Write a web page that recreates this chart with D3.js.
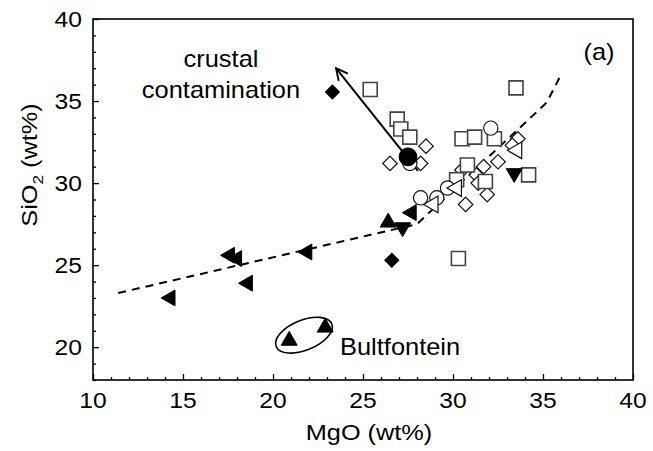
<!DOCTYPE html>
<html><head><meta charset="utf-8">
<script src="https://cdn.jsdelivr.net/npm/d3@7"></script>
<style>body{margin:0;background:#fff}svg{display:block}text{font-family:"Liberation Sans",Arial,sans-serif;fill:#000}</style>
</head><body>
<svg id="c" width="653" height="451"></svg>
<script>
// ---- data ----
const xTicks = [10, 15, 20, 25, 30, 35, 40];
const yTicks = [20, 25, 30, 35, 40];
const openSquares = [[25.4,35.7],[33.5,35.8],[26.9,33.9],[27.1,33.3],[27.6,32.8],[30.5,32.7],[31.2,32.8],[32.3,32.7],[30.8,31.1],[30.2,30.2],[31.8,30.1],[34.2,30.5],[30.3,25.4]];
const openDiamonds = [[28.5,32.25],[26.5,31.2],[28.2,31.2],[33.6,32.7],[33.3,32.3],[32.5,31.3],[31.7,31.0],[31.3,30.5],[31.4,30.0],[31.9,29.3],[30.7,28.7],[30.5,30.8]];
const openCircles = [[32.1,33.35],[28.2,29.1],[29.1,29.1],[29.7,29.7],[27.6,31.2]];
const openLeftTriangles = [[33.55,32.0],[28.9,28.7],[30.2,29.7]];
const filledCircles = [[27.5,31.6]];
const filledLeftTriangles = [[14.3,23.0],[17.6,25.6],[18.0,25.4],[18.6,23.9],[21.9,25.8],[27.7,28.2]];
const filledUpTriangles = [[26.4,27.6],[20.9,20.4],[22.9,21.2]];
const filledDownTriangles = [[27.2,27.3],[33.4,30.6]];
const filledDiamonds = [[23.3,35.55],[26.6,25.3]];
const trendLine = [[11.4,23.3],[28.0,27.5],[31.2,30.8],[35.2,34.9],[36.0,36.6]];
const contaminationArrow = [[28.05,30.75],[23.5,37.0]];
const bultfonteinGroup = [21.72, 20.73];

// ---- layout ----
const L = 93, R = 633, T = 19, B = 380;
const svg = d3.select("#c");
const x = d3.scaleLinear().domain([10, 40]).range([L, R]);
const y = d3.scaleLinear().domain([18, 40]).range([B, T]);

svg.append("defs").append("marker").attr("id","ah").attr("viewBox","0 0 12 12")
  .attr("refX",11).attr("refY",6).attr("markerWidth",14).attr("markerHeight",14)
  .attr("markerUnits","userSpaceOnUse").attr("orient","auto")
  .append("path").attr("d","M1,1 L11,6 L1,11").attr("fill","none").attr("stroke","#000").attr("stroke-width",1.6);

// axes (inward ticks)
const xAxis = d3.axisBottom(x).tickValues(d3.range(10, 41, 1)).tickSize(-3).tickFormat("");
const gx = svg.append("g").attr("transform",`translate(0,${B})`).call(xAxis);
gx.selectAll(".tick line").attr("y2", d => d % 5 === 0 ? -6 : -3).attr("stroke-width",1.3);
const yAxis = d3.axisLeft(y).tickValues(d3.range(18, 41, 1)).tickSize(-3).tickFormat("");
const gy = svg.append("g").attr("transform",`translate(${L},0)`).call(yAxis);
gy.selectAll(".tick line").attr("x2", d => d % 5 === 0 ? 6 : 3).attr("stroke-width",1.3);
svg.selectAll(".domain").remove();
svg.append("rect").attr("x",L).attr("y",T).attr("width",R-L).attr("height",B-T)
  .attr("fill","none").attr("stroke","#000").attr("stroke-width",1.6);

function stext(tx, ty, str, size, anchor, sx) {
  return svg.append("text").attr("transform",`translate(${tx},${ty}) scale(${sx},1)`)
    .attr("text-anchor",anchor).attr("font-size",size).text(str);
}
xTicks.forEach(v => stext(x(v), 408, String(v), 22, "middle", 1.12));
yTicks.forEach(v => stext(L - 11, y(v) + 8, String(v), 22, "end", 1.12));
stext((L+R)/2 + 6, 440, "MgO (wt%)", 22, "middle", 1.15);
const yl = svg.append("text").attr("transform","translate(37,165) rotate(-90) scale(1.15,1)")
  .attr("text-anchor","middle").attr("font-size",22);
yl.append("tspan").text("SiO");
yl.append("tspan").attr("font-size",15).attr("dy",6).text("2");
yl.append("tspan").attr("dy",-6).text(" (wt%)");

// trend line
svg.append("path").datum(trendLine)
  .attr("d", d3.line().x(d => x(d[0])).y(d => y(d[1])))
  .attr("fill","none").attr("stroke","#000").attr("stroke-width",2).attr("stroke-dasharray","8,6");

// arrow
svg.append("line").attr("x1",x(contaminationArrow[0][0])).attr("y1",y(contaminationArrow[0][1]))
  .attr("x2",x(contaminationArrow[1][0])).attr("y2",y(contaminationArrow[1][1]))
  .attr("stroke","#000").attr("stroke-width",2).attr("marker-end","url(#ah)");

// markers
function plot(data, type, size, rot, fill, stroke, sw) {
  svg.append("g").selectAll("path").data(data).join("path")
    .attr("d", d3.symbol().type(type).size(size))
    .attr("transform", d => `translate(${x(d[0])},${y(d[1])}) rotate(${rot})`)
    .attr("fill", fill).attr("stroke", stroke).attr("stroke-width", sw);
}
plot(openDiamonds, d3.symbolSquare, 105, 45, "#fff", "#111", 1.2);
plot(openSquares, d3.symbolSquare, 196, 0, "#fff", "#444", 1.6);
plot(openCircles, d3.symbolCircle, 160, 0, "#fff", "#111", 1.2);
plot(openLeftTriangles, d3.symbolTriangle, 120, -90, "#fff", "#111", 1.2);
plot(filledCircles, d3.symbolCircle, 250, 0, "#000", "#000", 1);
plot(filledLeftTriangles, d3.symbolTriangle, 110, -90, "#000", "#000", 1);
plot(filledUpTriangles, d3.symbolTriangle, 110, 0, "#000", "#000", 1);
plot(filledDownTriangles, d3.symbolTriangle, 110, 180, "#000", "#000", 1);
plot(filledDiamonds, d3.symbolSquare, 98, 45, "#000", "#000", 1);

// Bultfontein ellipse
svg.append("ellipse").attr("cx",0).attr("cy",0).attr("rx",30).attr("ry",15)
  .attr("transform",`translate(${x(bultfonteinGroup[0])},${y(bultfonteinGroup[1])}) rotate(-22)`)
  .attr("fill","none").attr("stroke","#000").attr("stroke-width",1.6);

// annotations
stext(340, 355, "Bultfontein", 24, "start", 1.06);
stext(221, 67, "crustal", 24, "middle", 1.06);
stext(221, 98, "contamination", 24, "middle", 1.06);
stext(599, 60, "(a)", 24, "middle", 1.06);
</script>
</body></html>
